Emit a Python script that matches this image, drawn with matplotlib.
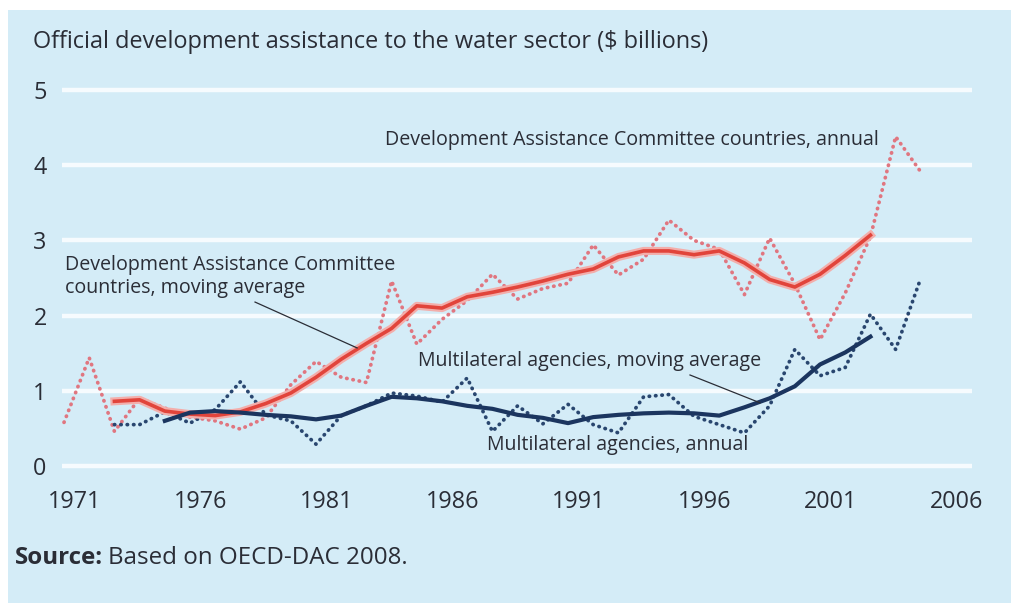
import matplotlib
matplotlib.use("Agg")
import matplotlib.pyplot as plt
import matplotlib.patheffects as pe
from matplotlib.patches import Rectangle
from matplotlib.transforms import ScaledTranslation

plt.rcParams["font.family"] = ["Open Sans", "DejaVu Sans"]

# Official development assistance to the water sector ($ billions)
dac_years = list(range(1971, 2006))
dac_annual = [0.58, 1.44, 0.46, 0.90, 0.77, 0.65, 0.60, 0.49, 0.64, 1.08,
              1.39, 1.18, 1.11, 2.46, 1.62, 1.95, 2.20, 2.55, 2.22, 2.36,
              2.43, 2.94, 2.54, 2.75, 3.27, 3.00, 2.88, 2.28, 3.03, 2.42,
              1.68, 2.30, 3.05, 4.38, 3.91]

dac_ma_years = list(range(1973, 2004))
dac_ma = [0.86, 0.88, 0.73, 0.69, 0.67, 0.72, 0.83, 0.97, 1.18, 1.42,
          1.63, 1.83, 2.13, 2.10, 2.25, 2.31, 2.38, 2.46, 2.55, 2.62,
          2.78, 2.86, 2.86, 2.81, 2.86, 2.70, 2.48, 2.38, 2.55, 2.80,
          3.07]

ml_years = list(range(1973, 2006))
ml_annual = [0.55, 0.55, 0.72, 0.57, 0.75, 1.12, 0.68, 0.60, 0.29, 0.67,
             0.80, 0.97, 0.93, 0.85, 1.17, 0.46, 0.80, 0.56, 0.82, 0.55,
             0.44, 0.92, 0.95, 0.66, 0.55, 0.44, 0.80, 1.55, 1.20, 1.31,
             2.02, 1.55, 2.50]

ml_ma_years = list(range(1975, 2004))
ml_ma = [0.60, 0.71, 0.73, 0.71, 0.68, 0.66, 0.62, 0.67, 0.80, 0.92,
         0.90, 0.86, 0.80, 0.76, 0.68, 0.64, 0.57, 0.65, 0.68, 0.70,
         0.71, 0.70, 0.67, 0.78, 0.90, 1.06, 1.35, 1.51, 1.72]

year_ticks = [1971, 1976, 1981, 1986, 1991, 1996, 2001, 2006]
value_ticks = [0, 1, 2, 3, 4, 5]

BG = "#d4ecf7"
TXT = "#2a2d36"
RED = "#e1443b"
RED_HALO = "#f3aeab"
PINK_DOT = "#e07680"
NAVY = "#1b355f"
NAVY_DOT = "#29466f"

W, H = 1011, 603
fig = plt.figure(figsize=(W / 100, H / 100), dpi=100)
fig.patch.set_facecolor("white")
fig.patches.append(Rectangle((8 / W, 0), 1 - 8 / W, 1 - 10 / H,
                             transform=fig.transFigure, facecolor=BG,
                             edgecolor="none", zorder=-10))

ax = fig.add_axes([62 / W, (H - 473.5) / H, 910 / W, 391 / H])
ax.set_facecolor("none")
ax.set_xlim(1970.92, 2007.03)
ax.set_ylim(-0.1, 5.1)
for s in ax.spines.values():
    s.set_visible(False)

# white horizontal gridlines
for v in value_ticks:
    ax.axhline(v, color="#f6fbfe", lw=3.2, zorder=1)

ax.set_yticks(value_ticks)
ax.set_xticks(year_ticks)
ax.tick_params(axis="both", length=0, labelsize=16.8, labelcolor=TXT)
ax.tick_params(axis="y", pad=11)
ax.tick_params(axis="x", pad=12)
shift = ScaledTranslation(11 / 100, 0, fig.dpi_scale_trans)
for lab in ax.get_xticklabels():
    lab.set_transform(lab.get_transform() + shift)

dot = (0, (0.1, 1.6))
ax.plot(dac_years, dac_annual, color=PINK_DOT, lw=2.7, ls=dot,
        dash_capstyle="round", zorder=3)
ax.plot(ml_years, ml_annual, color=NAVY_DOT, lw=2.7, ls=dot,
        dash_capstyle="round", zorder=3)
ax.plot(dac_ma_years, dac_ma, color=RED, lw=2.6, zorder=4,
        solid_joinstyle="round",
        path_effects=[pe.Stroke(linewidth=5.8, foreground=RED_HALO), pe.Normal()])
ax.plot(ml_ma_years, ml_ma, color=NAVY, lw=3.0, zorder=4,
        solid_joinstyle="round")

ann = dict(fontsize=14.1, color=TXT, va="center", ha="left", zorder=6)
ax.text(1983.74, 4.34, "Development Assistance Committee countries, annual", **ann)
ax.text(1971.04, 2.52, "Development Assistance Committee\ncountries, moving average",
        linespacing=1.15, **ann)
ax.text(1985.05, 1.40, "Multilateral agencies, moving average", **ann)
ax.text(1987.79, 0.28, "Multilateral agencies, annual", **ann)

ax.plot([1978.58, 1982.63], [2.18, 1.57], color="#2a2d36", lw=0.9, zorder=5)
ax.plot([1995.84, 1998.62], [1.21, 0.84], color="#2a2d36", lw=0.9, zorder=5)

fig.text(33 / W, 1 - 42 / H,
         "Official development assistance to the water sector ($ billions)",
         fontsize=16.9, color=TXT, ha="left", va="center")

src_bold = fig.text(15 / W, 1 - 558 / H, "Source:", fontsize=17.4, color=TXT,
                    fontweight="bold", ha="left", va="center")
fig.canvas.draw()
bb = src_bold.get_window_extent(renderer=fig.canvas.get_renderer())
fig.text(bb.x1 / W + 5 / W, 1 - 558 / H, "Based on OECD-DAC 2008.", fontsize=17.4,
         color=TXT, ha="left", va="center")

fig.savefig("out.png", dpi=100, facecolor=fig.get_facecolor())
